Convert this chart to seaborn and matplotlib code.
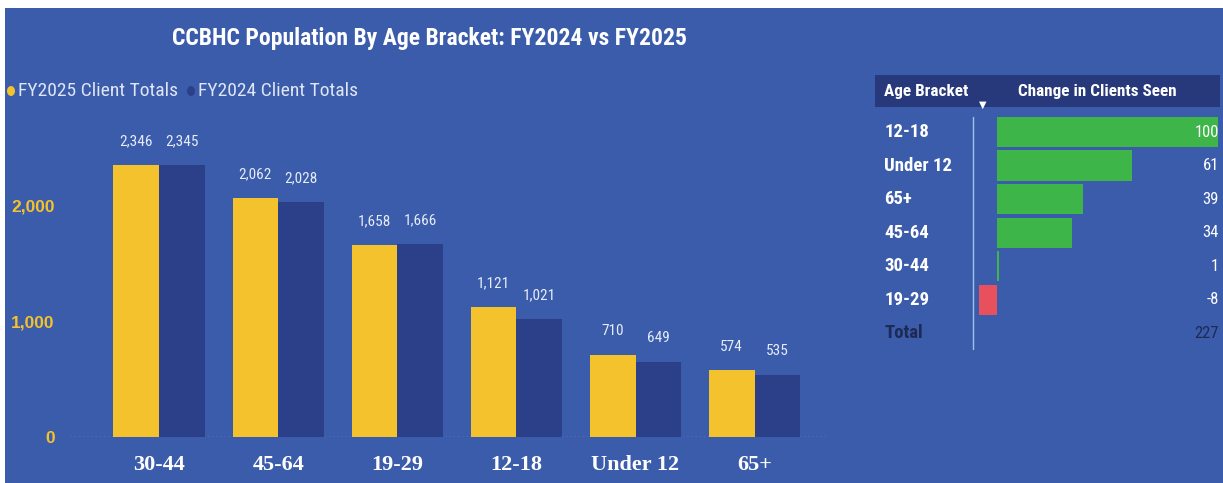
import matplotlib
matplotlib.use("Agg")
import matplotlib.pyplot as plt
import seaborn as sns
import pandas as pd
from matplotlib.patches import Rectangle, Ellipse

# ---- data ----
age_brackets = ["30-44", "45-64", "19-29", "12-18", "Under 12", "65+"]
fy2025 = [2346, 2062, 1658, 1121, 710, 574]
fy2024 = [2345, 2028, 1666, 1021, 649, 535]
series_names = ["FY2025 Client Totals", "FY2024 Client Totals"]
y_ticks = [0, 1000, 2000]

change_brackets = ["12-18", "Under 12", "65+", "45-64", "30-44", "19-29"]
change_values = [100, 61, 39, 34, 1, -8]
change_total = 227

# ---- style ----
BG = "#3b5cab"
YELLOW = "#f3c22c"
NAVY = "#2c408a"
GREEN = "#3db548"
RED = "#e8505e"
LABEL = "#e6edf8"
NARROW = ["Liberation Sans Narrow", "Roboto Condensed", "Liberation Sans", "DejaVu Sans"]
SERIF = ["Liberation Serif", "DejaVu Serif"]

sns.set_theme(style="white")
plt.rcParams["font.family"] = NARROW

W, H = 1223, 483
fig = plt.figure(figsize=(W / 100, H / 100), dpi=100, facecolor=BG)
# thin white scan border on top and left
fig.patches.append(Rectangle((0, 1 - 8 / H), 1, 8 / H, transform=fig.transFigure,
                             facecolor="white", edgecolor="none"))
fig.patches.append(Rectangle((0, 0), 5 / W, 1, transform=fig.transFigure,
                             facecolor="white", edgecolor="none"))


def px(x0, y0, x1, y1):
    """pixel box (left, top, right, bottom) -> figure rect"""
    return [x0 / W, 1 - y1 / H, (x1 - x0) / W, (y1 - y0) / H]


# ---- main clustered bar chart ----
df = pd.DataFrame({
    "Age Bracket": age_brackets * 2,
    "Clients": fy2025 + fy2024,
    "Series": [series_names[0]] * len(age_brackets) + [series_names[1]] * len(age_brackets),
})
ax = fig.add_axes(px(70, 124, 826, 437))
ax.set_facecolor("none")
sns.barplot(data=df, x="Age Bracket", y="Clients", hue="Series",
            order=age_brackets, hue_order=series_names,
            palette=[YELLOW, NAVY], width=0.77, gap=0, saturation=1,
            ax=ax, legend=False, edgecolor="none")
ax.set_xlim(-0.75, 5.6)
ax.set_ylim(0, 2700)
ax.set_yticks(y_ticks)
ax.set_yticklabels([f"{v:,}" for v in y_ticks], color=YELLOW,
                   fontweight="bold", fontsize=12.5,
                   family=["Liberation Sans", "DejaVu Sans"])
ax.tick_params(axis="y", length=0, pad=11)
ax.tick_params(axis="x", length=0, pad=13)
ax.set_xticks(range(len(age_brackets)))
ax.set_xticklabels(age_brackets, color="white", fontweight="bold",
                   fontsize=16, family=SERIF)
ax.set_xlabel("")
ax.set_ylabel("")
for s in ax.spines.values():
    s.set_visible(False)
ax.axhline(0, color="#9aa9d6", lw=1, ls=(0, (1, 2)), zorder=0)
for cont in ax.containers:
    ax.bar_label(cont, labels=[f"{v:,.0f}" for v in cont.datavalues],
                 padding=12, color=LABEL, fontsize=11)

# title & legend
fig.text(430 / W, 1 - 38 / H, "CCBHC Population By Age Bracket: FY2024 vs FY2025",
         ha="center", va="center", color="white", fontsize=17, fontweight="bold")
lx = [11, 191]
for i, name in enumerate(series_names):
    fig.patches.append(Ellipse(
        (lx[i] / W, 1 - 91 / H), 8 / W, 10 / H, transform=fig.transFigure,
        facecolor=[YELLOW, NAVY][i], edgecolor="none", zorder=2))
    fig.text((lx[i] + 7) / W, 1 - 91 / H, name, ha="left", va="center",
             color="#dfe6f5", fontsize=14)

# ---- right table with data bars ----
ax2 = fig.add_axes(px(875, 75, 1220, 350))
ax2.set_facecolor("none")
cdf = pd.DataFrame({"Age Bracket": change_brackets, "Change": change_values})
colors = [GREEN if v >= 0 else RED for v in change_values]
sns.barplot(data=cdf, y="Age Bracket", x="Change", order=change_brackets,
            hue="Age Bracket", palette=colors, legend=False, orient="h",
            width=0.9, saturation=1, ax=ax2, edgecolor="none")
ax2.set_xlim(-55.2, 100.9)
ax2.set_ylim(6.5, -1.7)
ax2.axis("off")
ax2.add_patch(Rectangle((-55.2, -1.7), 156.1, 0.95, facecolor="#27397a",
                        edgecolor="none", zorder=0))
ax2.text(-51, -1.22, "Age Bracket", color="white", fontweight="bold",
         fontsize=12.3, va="center", ha="left")
ax2.text(9.5, -1.22, "Change in Clients Seen", color="white", fontweight="bold",
         fontsize=12.3, va="center", ha="left")
ax2.text(-6.3, -0.8, "\u25BC", color="white", fontsize=7, va="center",
         ha="center", family=["DejaVu Sans"])
ax2.plot([-10.9, -10.9], [-0.45, 6.5], color="#9cc3ea", lw=1)
for i, (b, v) in enumerate(zip(change_brackets, change_values)):
    ax2.text(-51, i, b, color="white", fontweight="bold", fontsize=13.5,
             va="center", ha="left")
    ax2.text(100.5, i, f"{v}", color="white", fontsize=12, va="center",
             ha="right")
ax2.text(-51, 6, "Total", color="#1e2a55", fontweight="bold", fontsize=13.5,
         va="center", ha="left")
ax2.text(100.5, 6, f"{change_total}", color="#1e2a55", fontsize=12,
         va="center", ha="right")

fig.savefig("out.png", dpi=100, facecolor=BG)
